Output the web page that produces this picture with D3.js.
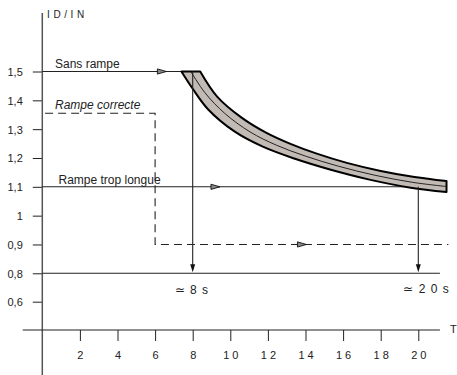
<!DOCTYPE html>
<html>
<head>
<meta charset="utf-8">
<script src="https://cdn.jsdelivr.net/npm/d3@7"></script>
<style>
  body { margin: 0; background: #fff; }
  svg { display: block; font-family: "Liberation Sans", Arial, sans-serif; }
</style>
</head>
<body>
<svg id="chart" width="457" height="375"></svg>
<script>
// ticks
const xTicks = [2, 4, 6, 8, 10, 12, 14, 16, 18, 20]
const yTicks = [0.6, 0.8, 0.9, 1, 1.1, 1.2, 1.3, 1.4, 1.5]
const yTickLabels = ["0,6", "0,8", "0,9", "1", "1,1", "1,2", "1,3", "1,4", "1,5"]

// band (upper/right edge and lower/left edge)
const bandUpperT = [8.4, 9.3, 10.6, 11.9, 13.2, 14.6, 16.2, 18.0, 19.8, 21.5]
const bandUpperV = [1.5, 1.413, 1.34, 1.288, 1.249, 1.215, 1.183, 1.155, 1.134, 1.12]
const bandLowerT = [7.4, 8.0, 8.8, 10.2, 11.7, 13.4, 15.3, 17.4, 19.6, 21.5]
const bandLowerV = [1.5, 1.44, 1.37, 1.293, 1.24, 1.198, 1.16, 1.125, 1.097, 1.082]

// reference lines [t, value]
const sansRampe = [[0, 1.5], [7.4, 1.5]]
const rampeCorrecte = [[0.15, 1.355], [6, 1.355], [6, 0.9], [21.6, 0.9]]
const rampeTropLongue = [[0, 1.1], [20, 1.1]]
const seuil = [[0, 0.8], [21.15, 0.8]]
const drops = [[8, 1.5], [20, 1.1]]
const arrowsRight = [[6.6, 1.5], [9.45, 1.1], [14.05, 0.9]]

const lineLabels = ["Sans rampe", "Rampe correcte", "Rampe trop longue"]
const timeLabels = ["\u2243 8 s", "\u2243 2 0 s"]

const svg = d3.select("#chart")

// scales (the y scale is broken below 0,8)
const x = d3.scaleLinear().domain([0, 20]).range([42.3, 418.3])
const y = d3.scaleLinear().domain([0.4, 0.6, 0.8, 1.5]).range([330, 301.7, 273.3, 71.5])

const ink = "#222"

// axes
const yAxis = d3.axisLeft(y)
  .tickValues(yTicks)
  .tickSize(9.5)
  .tickPadding(10)
  .tickFormat((d, i) => yTickLabels[i])

svg.append("g")
  .attr("transform", `translate(${x(0)},0)`)
  .call(yAxis)
  .call(g => g.select(".domain").remove())
  .call(g => g.selectAll("line").attr("stroke", ink))
  .call(g => g.selectAll("text").attr("font-size", 11).attr("fill", ink)
    .attr("font-family", "Liberation Sans, Arial, sans-serif").attr("dy", "0.35em"))

const xAxis = d3.axisBottom(x)
  .tickValues(xTicks)
  .tickSize(11)
  .tickPadding(10.5)
  .tickFormat(d => String(d))

svg.append("g")
  .attr("transform", `translate(0,${y(0.4)})`)
  .call(xAxis)
  .call(g => g.select(".domain").remove())
  .call(g => g.selectAll("line").attr("stroke", ink))
  .call(g => g.selectAll("text").attr("font-size", 11).attr("fill", ink)
    .attr("font-family", "Liberation Sans, Arial, sans-serif")
    .style("letter-spacing", "3px").attr("x", 1.5))

// axis lines
svg.append("line")
  .attr("x1", x(0)).attr("x2", x(0))
  .attr("y1", 13).attr("y2", 375)
  .attr("stroke", "#555").attr("stroke-width", 1.5)

svg.append("line")
  .attr("x1", 22.7).attr("x2", x(21.15))
  .attr("y1", y(0.4)).attr("y2", y(0.4))
  .attr("stroke", ink).attr("stroke-width", 1.2)

svg.append("text")
  .attr("x", 47).attr("y", 17.5)
  .attr("font-size", 10).attr("fill", ink)
  .style("letter-spacing", "3.6px")
  .text("ID/IN")

svg.append("text")
  .attr("x", 450).attr("y", 332.5)
  .attr("font-size", 11).attr("fill", ink)
  .text("T")

const line = d3.line().x(d => x(d[0])).y(d => y(d[1]))

// band
const upper = bandUpperT.map((t, i) => [t, bandUpperV[i]])
const lower = bandLowerT.map((t, i) => [t, bandLowerV[i]])
const mid = upper.map((d, i) => [(d[0] + lower[i][0]) / 2, (d[1] + lower[i][1]) / 2])

const curved = d3.line().x(d => x(d[0])).y(d => y(d[1])).curve(d3.curveCatmullRom)
const bandPath = curved(upper) + curved(lower.slice().reverse()).replace(/^M/, "L") + "Z"

// horizontal lines
svg.append("path").attr("d", line(sansRampe))
  .attr("fill", "none").attr("stroke", ink).attr("stroke-width", 1.1)
svg.append("path").attr("d", line(rampeTropLongue))
  .attr("fill", "none").attr("stroke", ink).attr("stroke-width", 1.1)
svg.append("path").attr("d", line(seuil))
  .attr("fill", "none").attr("stroke", ink).attr("stroke-width", 1.1)
svg.append("path").attr("d", line(rampeCorrecte))
  .attr("fill", "none").attr("stroke", ink).attr("stroke-width", 1.1)
  .attr("stroke-dasharray", "8,5")

svg.append("path")
  .attr("d", bandPath)
  .attr("fill", "#c2bab5")
  .attr("stroke", "#000")
  .attr("stroke-width", 2)
  .attr("stroke-linejoin", "round")

svg.append("path")
  .attr("d", curved(mid))
  .attr("fill", "none")
  .attr("stroke", "#111")
  .attr("stroke-width", 0.9)

// drop lines with arrowheads
drops.forEach(d => {
  svg.append("line")
    .attr("x1", x(d[0])).attr("x2", x(d[0]))
    .attr("y1", y(d[1])).attr("y2", y(0.8) - 4)
    .attr("stroke", ink).attr("stroke-width", 1.1)
  const ax = x(d[0]), ay = y(0.8) - 1
  svg.append("path")
    .attr("d", `M${ax},${ay} L${ax - 2.5},${ay - 8} L${ax + 2.5},${ay - 8} Z`)
    .attr("fill", "#111")
})

// right arrowheads
arrowsRight.forEach(d => {
  const ax = x(d[0]), ay = y(d[1])
  svg.append("path")
    .attr("d", `M${ax},${ay} L${ax - 9},${ay - 2.6} L${ax - 9},${ay + 2.6} Z`)
    .attr("fill", "#888").attr("stroke", "#111").attr("stroke-width", 0.9)
})

// labels
svg.append("text").attr("x", 55).attr("y", 67.5)
  .attr("font-size", 12).attr("fill", ink).text(lineLabels[0])
svg.append("text").attr("x", 55).attr("y", 108.5)
  .attr("font-size", 12).attr("font-style", "italic").attr("fill", ink).text(lineLabels[1])
svg.append("text").attr("x", 58.5).attr("y", 183.5)
  .attr("font-size", 12).attr("fill", ink).text(lineLabels[2])

svg.append("text").attr("x", x(8) - 18).attr("y", 294)
  .attr("font-size", 12).attr("fill", ink).style("letter-spacing", "1px").text(timeLabels[0])
svg.append("text").attr("x", x(20) - 15).attr("y", 293)
  .attr("font-size", 12).attr("fill", ink).style("letter-spacing", "1px").text(timeLabels[1])
</script>
</body>
</html>
